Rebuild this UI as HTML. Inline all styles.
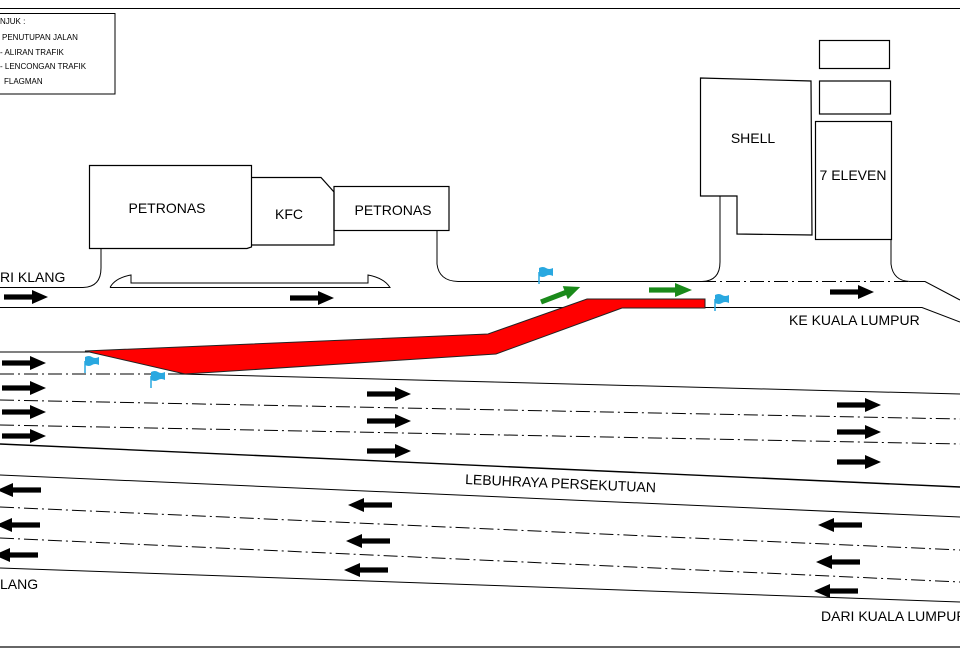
<!DOCTYPE html>
<html><head><meta charset="utf-8"><style>
html,body{margin:0;padding:0;background:#fff;}
svg{display:block;font-family:"Liberation Sans","DejaVu Sans",sans-serif;}
</style></head><body>
<svg width="960" height="656" viewBox="0 0 960 656" xmlns="http://www.w3.org/2000/svg">
<defs>
<g id="ar"><rect x="0" y="-2.6" width="30" height="5.2" fill="#000"/><polygon points="28,-7 44,0 28,7" fill="#000"/></g>
<g id="al"><rect x="14" y="-2.6" width="30" height="5.2" fill="#000"/><polygon points="16,-7 0,0 16,7" fill="#000"/></g>
<g id="fl"><line x1="0" y1="0" x2="0" y2="12" stroke="#29a8e0" stroke-width="1.5"/><path d="M0,-4 q4,-2 7,0 t7,0 v8 q-4,-2 -7,0 t-7,0z" fill="#29a8e0"/></g>
</defs>
<line x1="0" y1="8.5" x2="960" y2="8.5" stroke="#000" stroke-width="1"/>
<line x1="0" y1="647" x2="960" y2="647" stroke="#666" stroke-width="2"/>
<rect x="-2" y="13.5" width="117" height="80.5" fill="none" stroke="#000"/>
<g font-size="8" fill="#000">
<text x="0" y="24">NJUK :</text>
<text x="2" y="40">PENUTUPAN JALAN</text>
<text x="0" y="55">- ALIRAN TRAFIK</text>
<text x="0" y="69">- LENCONGAN TRAFIK</text>
<text x="4" y="84">FLAGMAN</text>
</g>
<g fill="none" stroke="#000" stroke-width="1.2">
<path d="M89.5,165.5 H251.5 V247 L247,248.5 H89.5 Z"/>
<path d="M252,177.5 H321 L334,192 V245 H252"/>
<rect x="334" y="186.5" width="115" height="44"/>
<path d="M700.5,78 L811,81 L812,235 L737,234 V196 H700.5 Z"/>
<rect x="819.5" y="40.5" width="70" height="28"/>
<rect x="819.5" y="81" width="71" height="33"/>
<rect x="815.5" y="121.5" width="76" height="118"/>
</g>
<g font-size="14" fill="#000" text-anchor="middle">
<text x="167" y="213">PETRONAS</text>
<text x="289" y="219">KFC</text>
<text x="393" y="215">PETRONAS</text>
<text x="753" y="143">SHELL</text>
<text x="853" y="180">7 ELEVEN</text>
</g>
<g fill="none" stroke="#000" stroke-width="1">
<path d="M0,287.5 H83 Q101,287 101,268 V248"/>
<path d="M110,287.5 H390 Q384,278 368,275 V283 H131 V275 Q115,278 110,287.5"/>
<path d="M437,230 V264 Q439,281 458,281.5 H702 Q720,281 720,262 V196"/>
<path d="M891,240 V264 Q893,281 910,281.5 H925 L960,300"/>
<path d="M0,307.5 H922 L960,322"/>
<line x1="0" y1="352" x2="90" y2="352"/>
<path d="M180,374 L960,394"/>
<line x1="0" y1="444" x2="960" y2="487" stroke-width="1.4"/>
<line x1="0" y1="475" x2="960" y2="517"/>
<line x1="0" y1="568" x2="960" y2="602"/>
</g>
<g fill="none" stroke="#000" stroke-width="1" stroke-dasharray="14,4,2,4">
<line x1="702" y1="281.5" x2="908" y2="281.5"/>
<line x1="0" y1="374" x2="180" y2="374"/>
<line x1="0" y1="400" x2="960" y2="419"/>
<line x1="0" y1="425" x2="960" y2="444"/>
<line x1="0" y1="507" x2="960" y2="550"/>
<line x1="0" y1="538" x2="960" y2="582"/>
</g>
<polygon points="85,351 488,334 587,299 705,299 705,308 622,308 496,354 185,374" fill="#ff0000" stroke="#222" stroke-width="1"/>
<use href="#ar" x="4" y="297"/><use href="#ar" x="290" y="298"/><use href="#ar" x="830" y="292"/>
<use href="#ar" x="2" y="363"/><use href="#ar" x="2" y="388"/><use href="#ar" x="2" y="412"/><use href="#ar" x="2" y="436"/>
<use href="#ar" x="367" y="394"/><use href="#ar" x="367" y="421"/><use href="#ar" x="367" y="451"/>
<use href="#ar" x="837" y="405"/><use href="#ar" x="837" y="432"/><use href="#ar" x="837" y="462"/>
<use href="#al" x="-3" y="490"/><use href="#al" x="-4" y="525"/><use href="#al" x="-6" y="555"/>
<use href="#al" x="348" y="505"/><use href="#al" x="346" y="541"/><use href="#al" x="344" y="570"/>
<use href="#al" x="818" y="525"/><use href="#al" x="816" y="562"/><use href="#al" x="814" y="591"/>
<g fill="#1a8a1a">
<g transform="translate(541,302) rotate(-21)"><rect x="0" y="-2.6" width="28" height="5.2"/><polygon points="26,-7 42,0 26,7"/></g>
<g transform="translate(649,290)"><rect x="0" y="-2.6" width="28" height="5.2"/><polygon points="26,-7 43,0 26,7"/></g>
</g>
<use href="#fl" x="539" y="272"/><use href="#fl" x="715" y="299"/><use href="#fl" x="85" y="361"/><use href="#fl" x="151" y="376"/>
<g font-size="14" fill="#000">
<text x="0" y="282">RI KLANG</text>
<text x="789" y="325">KE KUALA LUMPUR</text>
<text x="465" y="484" transform="rotate(2.5 465 484)">LEBUHRAYA PERSEKUTUAN</text>
<text x="0" y="589">LANG</text>
<text x="821" y="621">DARI KUALA LUMPUR</text>
</g>
</svg>
</body></html>
